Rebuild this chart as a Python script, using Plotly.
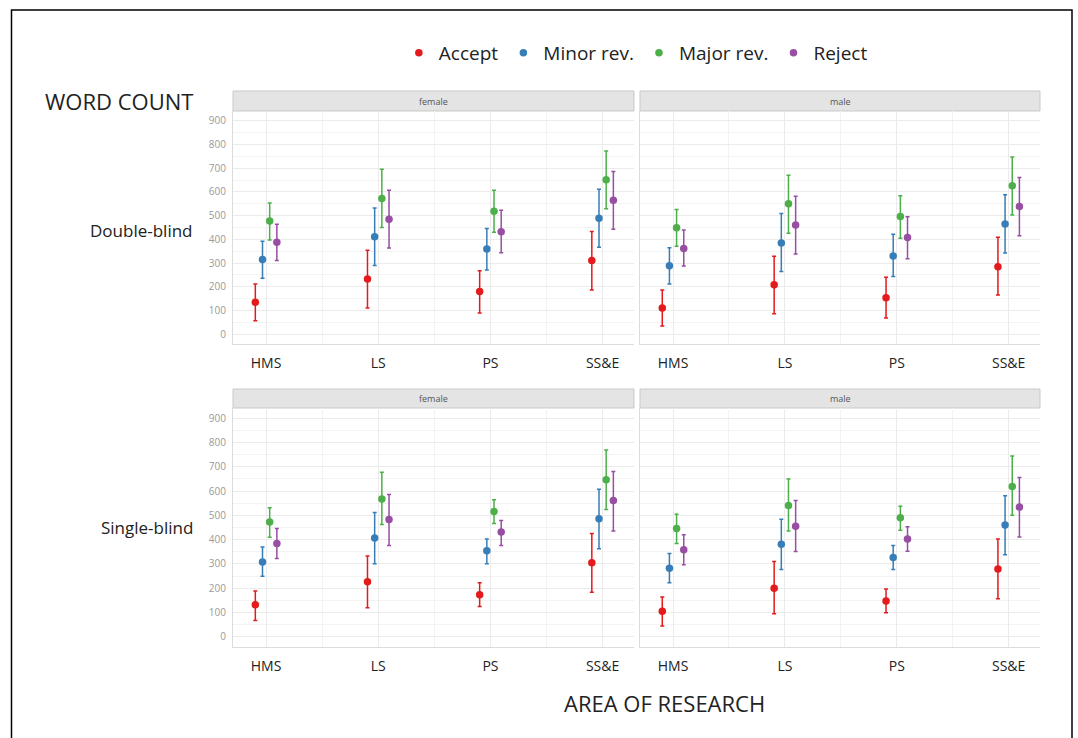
import plotly.graph_objects as go

categories = ["HMS", "LS", "PS", "SS&E"]
outcomes = ["Accept", "Minor rev.", "Major rev.", "Reject"]
colors = ["#E41A1C", "#377EB8", "#4DAF4A", "#984EA3"]
genders = ["female", "male"]
reviews = ["Double-blind", "Single-blind"]
y_ticks = [0, 100, 200, 300, 400, 500, 600, 700, 800, 900]

# rows = outcomes (Accept, Minor rev., Major rev., Reject); columns = categories
db_female_mean = [[134, 233, 180, 311], [315, 411, 359, 489], [477, 572, 519, 652], [388, 485, 432, 565]]
db_female_hi = [[211, 354, 267, 433], [392, 532, 446, 612], [553, 696, 607, 773], [464, 607, 523, 686]]
db_female_lo = [[56, 110, 89, 186], [236, 290, 270, 367], [397, 450, 430, 529], [311, 363, 343, 443]]

db_male_mean = [[110, 208, 153, 284], [288, 385, 330, 465], [449, 550, 496, 626], [361, 461, 408, 539]]
db_male_hi = [[186, 329, 240, 409], [364, 509, 422, 588], [526, 671, 584, 748], [439, 582, 495, 661]]
db_male_lo = [[34, 86, 68, 165], [211, 264, 243, 342], [371, 426, 405, 503], [287, 338, 318, 415]]

sb_female_mean = [[132, 227, 173, 305], [308, 407, 354, 486], [473, 567, 516, 647], [384, 483, 431, 561]]
sb_female_hi = [[189, 333, 223, 425], [370, 512, 403, 607], [531, 677, 564, 769], [446, 586, 479, 681]]
sb_female_lo = [[67, 120, 125, 183], [249, 301, 301, 363], [410, 462, 466, 524], [322, 376, 376, 436]]

sb_male_mean = [[105, 200, 147, 279], [282, 381, 327, 460], [446, 541, 490, 619], [358, 455, 403, 534]]
sb_male_hi = [[164, 310, 197, 403], [343, 484, 376, 581], [505, 650, 537, 744], [420, 561, 453, 656]]
sb_male_lo = [[44, 95, 99, 157], [223, 277, 277, 338], [384, 436, 439, 500], [297, 351, 352, 411]]

panels = [
    (0, 0, db_female_mean, db_female_hi, db_female_lo),
    (0, 1, db_male_mean, db_male_hi, db_male_lo),
    (1, 0, sb_female_mean, sb_female_hi, sb_female_lo),
    (1, 1, sb_male_mean, sb_male_hi, sb_male_lo),
]

W, H = 1078, 738
x_doms = [[233 / W, 634 / W], [640 / W, 1040 / W]]
y_doms = [[1 - 344 / H, 1 - 111 / H], [1 - 647 / H, 1 - 408 / H]]
strip_y = [[1 - 111 / H, 1 - 91 / H], [1 - 408 / H, 1 - 389 / H]]

FONT = "Open Sans"
fig = go.Figure()
dodge = 0.064

for r, c, mean, hi, lo in panels:
    k = r * 2 + c + 1
    xa = "x" if k == 1 else f"x{k}"
    ya = "y" if k == 1 else f"y{k}"
    for j, name in enumerate(outcomes):
        xs = [i + 1 + (j - 1.5) * dodge for i in range(len(categories))]
        fig.add_trace(go.Scatter(
            x=xs, y=mean[j], mode="markers", name=name,
            marker=dict(color=colors[j], size=7.5),
            error_y=dict(type="data", symmetric=False,
                         array=[h - m for h, m in zip(hi[j], mean[j])],
                         arrayminus=[m - l for m, l in zip(mean[j], lo[j])],
                         color=colors[j], thickness=1.5, width=2),
            xaxis=xa, yaxis=ya, legendgroup=name, showlegend=(k == 1),
        ))

layout = dict(
    width=W, height=H, margin=dict(l=0, r=0, t=0, b=0),
    paper_bgcolor="white", plot_bgcolor="white",
    showlegend=True,
    legend=dict(orientation="h", x=0.37, xanchor="left", y=1 - 53 / H, yanchor="middle",
                font=dict(family=FONT, size=19, color="#222"), itemwidth=30,
                tracegroupgap=0, bgcolor="rgba(0,0,0,0)"),
    font=dict(family=FONT),
)

for r in range(2):
    for c in range(2):
        k = r * 2 + c + 1
        sx = "" if k == 1 else str(k)
        layout[f"xaxis{sx}"] = dict(
            domain=x_doms[c], anchor=f"y{sx}", range=[0.705, 4.28],
            tickvals=[1, 2, 3, 4], ticktext=categories,
            tickfont=dict(family=FONT, size=14, color="#222"),
            ticks="outside", ticklen=6, tickcolor="rgba(0,0,0,0)",
            showgrid=True, gridcolor="#EBEBEB", gridwidth=1,
            minor=dict(tickvals=[1.5, 2.5, 3.5], showgrid=True, gridcolor="#F3F3F3", gridwidth=1),
            showline=True, linecolor="#DCDCDC", linewidth=1, zeroline=False,
        )
        layout[f"yaxis{sx}"] = dict(
            domain=y_doms[r], anchor=f"x{sx}", range=[-42, 942],
            tickvals=y_ticks, ticktext=[str(v) for v in y_ticks],
            showticklabels=(c == 0),
            tickfont=dict(family=FONT, size=10, color="#9A9A9A"),
            ticks="outside", ticklen=4, tickcolor="rgba(0,0,0,0)",
            showgrid=True, gridcolor="#EBEBEB", gridwidth=1,
            minor=dict(dtick=50, tick0=0, showgrid=True, gridcolor="#F3F3F3", gridwidth=1),
            showline=True, linecolor="#DCDCDC", linewidth=1, zeroline=False,
        )

fig.update_layout(**layout)

shapes = []
annotations = []
for r in range(2):
    for c in range(2):
        shapes.append(dict(type="rect", xref="paper", yref="paper",
                           x0=x_doms[c][0], x1=x_doms[c][1], y0=strip_y[r][0], y1=strip_y[r][1],
                           fillcolor="#E4E4E4", line=dict(color="#C9C9C9", width=1), layer="below"))
        annotations.append(dict(text=genders[c], xref="paper", yref="paper",
                                x=(x_doms[c][0] + x_doms[c][1]) / 2,
                                y=(strip_y[r][0] + strip_y[r][1]) / 2,
                                showarrow=False, font=dict(family=FONT, size=9, color="#555"),
                                xanchor="center", yanchor="middle"))

# outer frame
shapes.append(dict(type="rect", xref="paper", yref="paper",
                   x0=11.5 / W, x1=1072 / W, y0=-0.05, y1=1 - 10 / H,
                   line=dict(color="black", width=1.5), fillcolor="rgba(0,0,0,0)"))

annotations.append(dict(text="WORD COUNT", xref="paper", yref="paper", x=195 / W, y=1 - 101 / H,
                        xanchor="right", yanchor="middle", showarrow=False,
                        font=dict(family=FONT, size=22, color="#222")))
annotations.append(dict(text=reviews[0], xref="paper", yref="paper", x=195 / W, y=1 - 230 / H,
                        xanchor="right", yanchor="middle", showarrow=False,
                        font=dict(family=FONT, size=17, color="#222")))
annotations.append(dict(text=reviews[1], xref="paper", yref="paper", x=195 / W, y=1 - 527 / H,
                        xanchor="right", yanchor="middle", showarrow=False,
                        font=dict(family=FONT, size=17, color="#222")))
annotations.append(dict(text="AREA OF RESEARCH", xref="paper", yref="paper", x=664 / W, y=1 - 703 / H,
                        xanchor="center", yanchor="middle", showarrow=False,
                        font=dict(family=FONT, size=22, color="#222")))

fig.update_layout(shapes=shapes, annotations=annotations)
fig.write_html("out.html")
